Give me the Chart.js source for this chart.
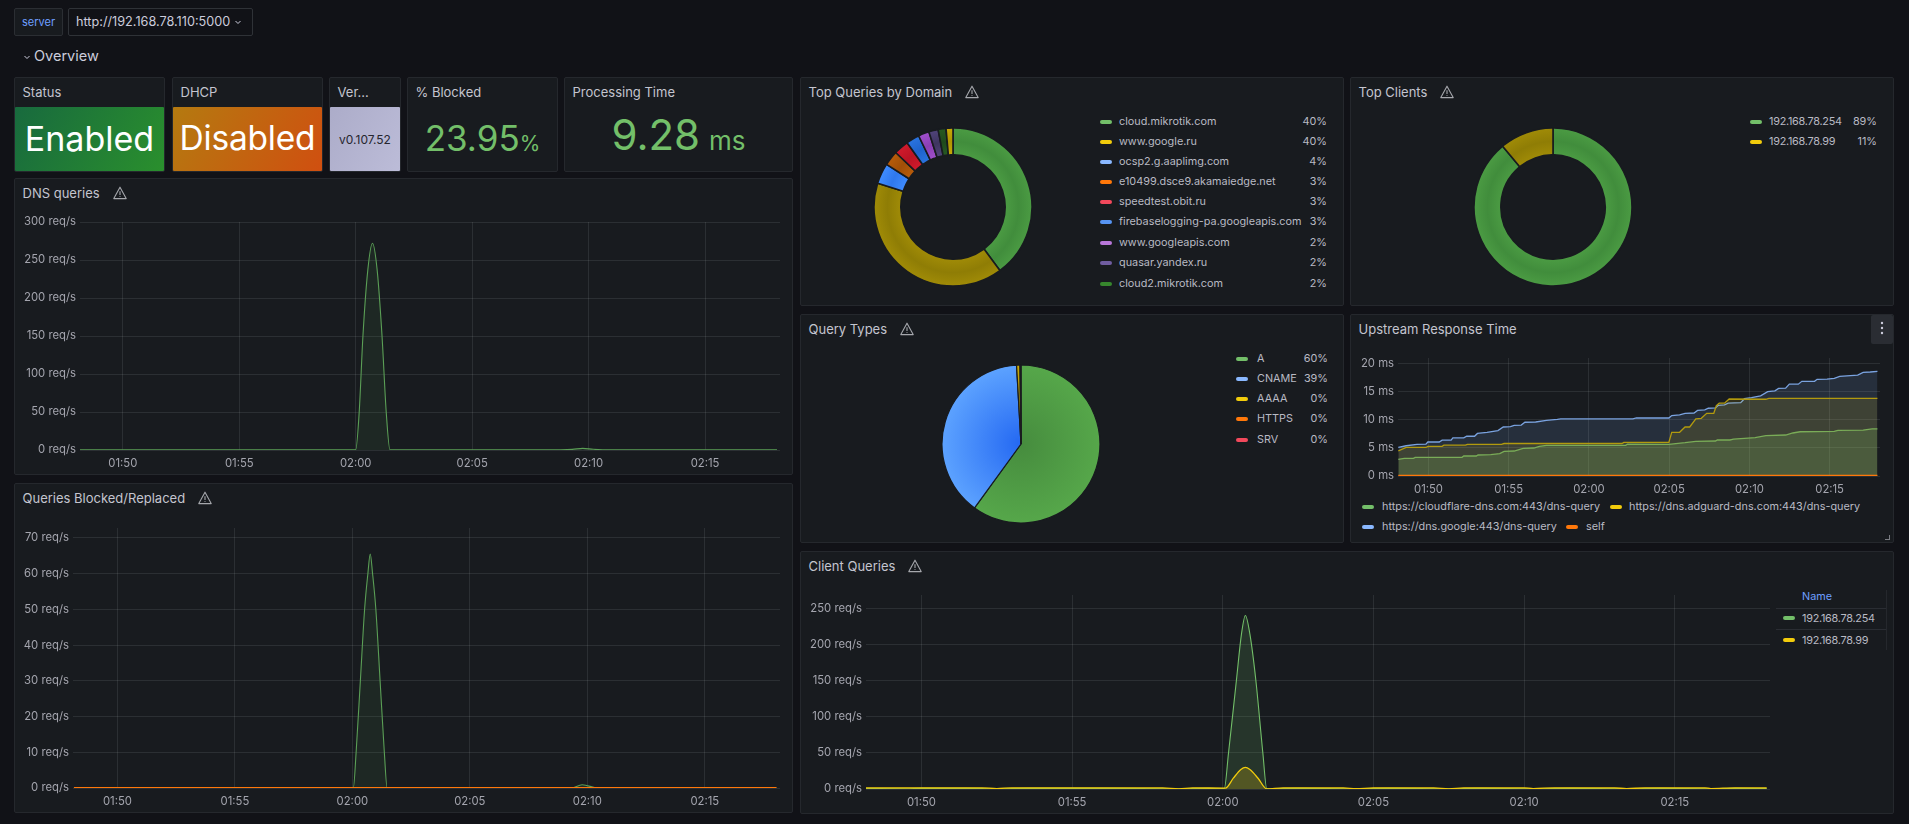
<!DOCTYPE html>
<html><head><meta charset="utf-8"><title>AdGuard Home dashboard</title>
<script src="https://cdn.jsdelivr.net/npm/chart.js@4"></script>
<style>
html,body{margin:0;padding:0;width:1909px;height:824px;background:#111217;overflow:hidden;font-family:Inter,sans-serif;color:#ccccdc}
.abs{position:absolute;white-space:nowrap}
.panel{position:absolute;box-sizing:border-box;background:#181b1f;border:1px solid #25282d;border-radius:2px}
.title{position:absolute;display:flex;align-items:center;font-size:13px;font-weight:400;color:#c4c5cf;line-height:16px;white-space:nowrap}
.title svg{margin-left:13px}
canvas{position:absolute;display:block}
.swatch{position:absolute;width:12px;height:4px;border-radius:2px}
.lg{position:absolute;font-size:10.85px;line-height:14px;color:#b9bac4;white-space:nowrap}
.ip{letter-spacing:-0.25px}
.tile{position:absolute;display:flex;align-items:center;justify-content:center;border-radius:1px;white-space:nowrap}
</style></head><body>
<script>
// ---------- shared axis data ----------
const xTickValues=[110,115,120,125,130,135];
const xTickLabels=['01:50','01:55','02:00','02:05','02:10','02:15'];
// ---------- DNS queries ----------
const dnsYTicks=[0,50,100,150,200,250,300];
const dnsTimes=[108.16,112,116,119.6,120,120.15,120.31,120.52,120.72,120.92,121.13,121.31,121.47,121.8,125,128.8,129.3,129.75,130.2,130.6,134,138.09];
const dnsValues=[0.4,0.4,0.4,0.4,0.4,50,150,237,272,237,150,50,0.4,0.4,0.4,0.4,0.8,2.2,0.9,0.4,0.4,0.4];
// ---------- Queries Blocked/Replaced ----------
const blockedYTicks=[0,10,20,30,40,50,60,70];
const blockedTimes=[108.15,116,120.04,120.16,120.34,120.52,120.66,120.76,120.86,121,121.18,121.36,121.48,126,129.3,129.78,130.45,134,138.05];
const blockedValues=[0,0,0,10,30,50,60,65.5,60,50,30,10,0,0,0,0.9,0,0,0];
const replacedTimes=[108.15,138.05];
const replacedValues=[0,0];
// ---------- Client Queries ----------
const clientYTicks=[0,50,100,150,200,250];
const client254Times=[108.16,109.5,110,111.5,112.5,113.5,116,118.5,119.5,120.05,120.19,120.45,120.62,120.75,120.9,121.1,121.33,121.46,122.5,124.4,125.5,127.5,128.5,130.3,131.5,133.4,134.5,136.2,137,138.05];
const client254Values=[0.6,0.3,0.8,0.8,0.2,0.8,0.8,0.3,0.8,0.5,50,150,215,241,215,150,50,0.4,0.8,0.2,0.8,0.2,0.8,0.2,0.8,0.2,0.8,0.2,0.8,0.6];
const client99Times=[108.16,112,112.5,113,118,118.54,119,120.09,120.35,120.6,120.75,120.9,121.17,121.46,122,124,124.43,125,127,127.5,128,130,130.3,131,133,133.4,134,136,136.2,137,138.05];
const client99Values=[1.6,1.6,0.6,1.6,1.6,0.3,1.6,1.2,15,27,30,27,15,0.2,1.6,1.6,0.4,1.6,1.6,0.3,1.6,1.6,0.6,1.6,1.6,0.5,1.6,1.6,0.6,1.6,1.6];
const clientNames=['192.168.78.254','192.168.78.99'];
// ---------- Upstream Response Time ----------
const upstreamYTicks=[0,5,10,15,20];
const upstreamNames=['https://cloudflare-dns.com:443/dns-query','https://dns.adguard-dns.com:443/dns-query','https://dns.google:443/dns-query','self'];
const cfTimes=[108.12,108.5,109.06,109.17,112.09,112.2,112.98,113.09,113.88,114.44,114.71,115.34,115.9,116.57,116.91,117.35,122.29,122.4,124.98,125.99,126.66,127.89,128,128.79,129.01,129.69,130.36,131.03,132.26,132.71,133.16,135.29,135.52,137.09,137.65,137.98];
const cfValues=[2.98,3.15,3.15,3.33,3.33,3.57,3.57,3.75,3.8,4,4.4,4.46,4.94,5,5.3,5.48,5.48,5.7,5.65,5.95,6.2,6.25,6.43,6.43,6.6,6.73,6.85,7.2,7.32,7.68,7.9,7.98,8.15,8.2,8.4,8.4];
const agTimes=[108.12,108.61,109.84,109.96,110.85,110.96,112.31,112.42,114.55,114.71,122.06,122.17,124.98,125.16,125.65,125.99,126.28,126.66,127,127.34,127.78,127.94,128.12,128.45,128.74,131.03,131.21,137.98];
const agValues=[4.5,5.1,5.1,5.3,5.3,5.5,5.5,5.65,5.65,5.8,5.8,6,6,7.8,7.8,8.75,8.75,10.2,10.3,11.2,11.2,12.55,13,13,13.75,13.7,13.87,13.87];
const gTimes=[108.12,108.61,109.28,109.84,109.96,110.67,110.85,111.41,111.52,112.2,112.38,112.87,113.05,113.65,114.33,114.66,115.11,115.34,115.78,116.01,116.68,117.35,118.03,118.25,122.74,122.96,124.98,125.16,125.65,125.99,126.55,126.77,127.22,127.44,127.89,128.05,128.45,128.68,129.46,129.69,130.13,130.7,131.14,131.59,131.82,132.26,132.49,133.05,133.27,134.06,134.22,134.84,135.29,135.63,136.75,137.09,137.53,137.98];
const gValues=[5.1,5.4,5.65,5.7,6.07,6.07,6.4,6.4,6.8,6.8,7.1,7.1,7.6,7.8,8.1,8.75,8.8,9.05,9.1,9.6,9.64,9.94,10.1,10.2,10.2,10.36,10.36,10.8,10.9,11.2,11.25,11.7,11.8,12.1,12.15,12.6,12.7,13,13.1,13.8,14,14.3,15.05,15.2,15.65,15.7,16.4,16.4,16.9,16.9,17.26,17.3,17.45,17.8,18,18.5,18.57,18.7];
const selfTimes=[108.12,137.98];
const selfValues=[0.05,0.05];
// ---------- Pies ----------
const domainLabels=['cloud.mikrotik.com','www.google.ru','ocsp2.g.aaplimg.com','e10499.dsce9.akamaiedge.net','speedtest.obit.ru','firebaselogging-pa.googleapis.com','www.googleapis.com','quasar.yandex.ru','cloud2.mikrotik.com',''];
const domainValues=[39.6,39.7,4.2,3.0,3.0,2.7,2.2,1.9,1.6,1.4];
const domainPct=['40%','40%','4%','3%','3%','3%','2%','2%','2%'];
const clientShareValues=[89,11];
const clientPct=['89%','11%'];
const typeLabels=['A','CNAME','AAAA','HTTPS','SRV'];
const typeValues=[60,39.1,0.7,0.1,0.1];
const typePct=['60%','39%','0%','0%','0%'];
// ---------- Colours ----------
const C={green:'#73BF69',yellow:'#F2CC0C',lblue:'#8AB8FF',orange:'#FF780A',red:'#F2495C',blue:'#5794F2',purple:'#B877D9',violet:'#705DA0',dgreen:'#37872D'};
const domainLegend=[C.green,C.yellow,C.lblue,C.orange,C.red,C.blue,C.purple,C.violet,C.dgreen];
const domainMid=['#418d3c','#8f7d05','#2f78ee','#a14f08','#bb1424','#1f63cc','#8a3fb4','#3f3560','#1f4a1c','#b09500'];
const domainEdge=['#4b9b43','#a08b07','#3f8cff','#b85c0a','#d01a2c','#2a74e0','#a04fcc','#50447a','#275a22','#c8aa08'];
const typeMid=['#468c3e','#2468f2','#9c8405','#b85c0a','#d01a2c'];
const typeEdge=['#56a74a','#5ca2ff','#c8aa08','#d8700a','#e03040'];

Chart.defaults.font.family='Inter';
Chart.defaults.font.size=11.3;
Chart.defaults.animation=false;

const WARN='<svg width="14" height="14" viewBox="0 0 14 14"><path d="M7 1.2 L13.2 12.6 L0.8 12.6 Z" fill="none" stroke="#a6a8ad" stroke-width="1.1" stroke-linejoin="round"/><path d="M7 5.2V9M7 10.3v.8" stroke="#a6a8ad" stroke-width="1.1"/></svg>';
function el(tag,cls,css,html){const e=document.createElement(tag);if(cls)e.className=cls;Object.assign(e.style,css);if(html!=null)e.innerHTML=html;document.body.appendChild(e);return e;}
function px(o){const r={};for(const k in o)r[k]=(typeof o[k]==='number'&&k!=='fontWeight')?o[k]+'px':o[k];return r;}
function panel(x,y,w,h,title,warn){
  el('div','panel',px({left:x,top:y,width:w,height:h}));
  el('div','title',px({left:x+8.5,top:y+7}),title+(warn?WARN:''));
}
function zip(t,v){return t.map((x,i)=>({x,y:v[i]}));}
function alpha(hex,a){const n=parseInt(hex.slice(1),16);return `rgba(${n>>16},${(n>>8)&255},${n&255},${a})`;}
function series(label,t,v,color,o){return Object.assign({label,data:zip(t,v),borderColor:color,backgroundColor:alpha(color,.1),borderWidth:1.1,pointRadius:0,fill:'origin',cubicInterpolationMode:'monotone'},o||{});}
const GRID='rgba(240,250,255,0.09)';
function lineChart(id,box,plot,yTicks,yMax,unit,datasets){
  const c=el('canvas','',px({left:box.x,top:box.y}));c.id=id;c.width=box.w;c.height=box.h;
  return new Chart(c,{type:'line',data:{datasets},options:{responsive:false,animation:false,
    layout:{padding:{top:plot.top-box.y,right:box.x+box.w-plot.right,left:0,bottom:0}},
    plugins:{legend:{display:false},tooltip:{enabled:false}},
    scales:{
      x:{type:'linear',min:plot.xmin,max:plot.xmax,border:{display:false},grid:{color:GRID,drawTicks:false},
         afterBuildTicks:s=>{s.ticks=xTickValues.map(value=>({value}));},
         afterFit:s=>{s.height=box.y+box.h-plot.bottom;},
         ticks:{color:'#a4a5ae',padding:7,maxRotation:0,autoSkip:false,callback:v=>xTickLabels[xTickValues.indexOf(v)]}},
      y:{type:'linear',min:0,max:yMax,border:{display:false},grid:{color:GRID,drawTicks:false},
         afterBuildTicks:s=>{s.ticks=yTicks.map(value=>({value}));},
         afterFit:s=>{s.width=plot.left-box.x;},
         ticks:{color:'#a4a5ae',padding:4,autoSkip:false,callback:v=>v+' '+unit}}
    }}});
}
function ringFill(mids,edges,cut,R){
  return ctx=>{
    const ch=ctx.chart,a=ch.chartArea;if(!a)return mids[ctx.dataIndex];
    const cx=(a.left+a.right)/2,cy=(a.top+a.bottom)/2,r=R*cut;
    const g=ch.ctx.createRadialGradient(cx,cy,r,cx,cy,R);
    const i=ctx.dataIndex;
    if(cut>0){g.addColorStop(0,edges[i]);g.addColorStop(.5,mids[i]);g.addColorStop(1,edges[i]);}
    else{g.addColorStop(0,mids[i]);g.addColorStop(1,edges[i]);}
    return g;
  };
}
function pie(id,cx,cy,labels,values,mids,edges,cut){
  const R=79;
  const c=el('canvas','',px({left:cx-82,top:cy-82}));c.id=id;c.width=164;c.height=164;
  return new Chart(c,{type:'doughnut',data:{labels,datasets:[{data:values,backgroundColor:ringFill(mids,edges,cut,R),borderColor:'#181b1f',borderWidth:cut>0?1.6:1.2,borderRadius:cut>0?1:0}]},
    options:{responsive:false,animation:false,radius:R,cutout:(cut*100)+'%',plugins:{legend:{display:false},tooltip:{enabled:false}}}});
}
function legendRows(sx,tx,pctRight,ys,labels,pcts,colors,cls){
  labels.forEach((t,i)=>{
    if(i>=ys.length)return;
    el('div','swatch',px({left:sx,top:ys[i]-2,background:colors[i]}));
    el('div','lg '+(cls||''),px({left:tx,top:ys[i]-7.8}),t);
    el('div','lg',px({left:pctRight-40,width:40,top:ys[i]-7.8,textAlign:'right'}),pcts[i]);
  });
}

// ---------- top bar ----------
el('div','abs',px({left:14,top:8,width:49,height:28,boxSizing:'border-box',border:'1px solid #2b2e33',background:'#181b1f',color:'#6e9fff',fontSize:11,fontWeight:400,lineHeight:'26px',textAlign:'center',borderRadius:2}),'server');
el('div','abs',px({left:68,top:8,width:185,height:28,boxSizing:'border-box',border:'1px solid #2f3237',background:'#111217',color:'#ccccdc',fontSize:12.7,lineHeight:'26px',paddingLeft:7,borderRadius:2}),'http://192.168.78.110:5000');
el('div','abs',px({left:234,top:18,fontSize:0}),'<svg width="8" height="8" viewBox="0 0 8 8"><path d="M1.5 3 L4 5.5 L6.5 3" fill="none" stroke="#ccccdc" stroke-width="1"/></svg>');
el('div','abs',px({left:23,top:53,fontSize:0}),'<svg width="8" height="8" viewBox="0 0 8 8"><path d="M1.5 3 L4 5.5 L6.5 3" fill="none" stroke="#ccccdc" stroke-width="1"/></svg>');
el('div','abs',px({left:34,top:47,fontSize:14.5,fontWeight:400,lineHeight:'18px',color:'#ccccdc'}),'Overview');

// ---------- stat tiles ----------
panel(14,77,151,95,'Status');
el('div','tile',px({left:15,top:107,width:149,height:64,paddingBottom:2,boxSizing:'border-box',background:'linear-gradient(120deg,#186a3e,#2a8f2d)',color:'#fff',fontSize:34,fontWeight:400}),'Enabled');
panel(172,77,151,95,'DHCP');
el('div','tile',px({left:173,top:107,width:149,height:64,paddingBottom:2,boxSizing:'border-box',background:'linear-gradient(120deg,#b47a10,#d04f10)',color:'#fff',fontSize:33.5,fontWeight:400,letterSpacing:'-0.2px'}),'Disabled');
panel(329,77,72,95,'Ver...');
el('div','tile',px({left:330,top:107,width:70,height:64,background:'linear-gradient(120deg,#acacc9,#bcbcd8)',color:'#26262f',fontSize:12}),'v0.107.52');
panel(407,77,151,95,'% Blocked');
el('div','abs',px({left:407,top:117,width:151,textAlign:'center',color:'#73BF69',fontSize:35,lineHeight:'42px'}),'23.95<span style="font-size:21px">%</span>');
panel(564,77,229,95,'Processing Time');
el('div','abs',px({left:564,top:110,width:229,textAlign:'center',color:'#73BF69',fontSize:42,lineHeight:'50px'}),'9.28<span style="font-size:26px;margin-left:9px">ms</span>');

// ---------- time series ----------
panel(14,178,779,297,'DNS queries',true);
lineChart('dns',{x:14,y:178,w:779,h:297},{left:80,right:780,top:222,bottom:450,xmin:108.16,xmax:138.22},dnsYTicks,300,'req/s',[
  series('DNS queries',dnsTimes,dnsValues,'#5b9f56')]);
panel(14,483,779,330,'Queries Blocked/Replaced',true);
lineChart('blocked',{x:14,y:483,w:779,h:330},{left:73,right:780,top:528,bottom:788,xmin:108.11,xmax:138.2},blockedYTicks,72.8,'req/s',[
  series('Replaced',replacedTimes,replacedValues,C.orange,{borderWidth:2,fill:false,order:0}),
  series('Blocked',blockedTimes,blockedValues,'#5b9f56',{order:1})]);
panel(800,551,1094,263,'Client Queries',true);
lineChart('client',{x:800,y:551,w:976,h:263},{left:866,right:1770,top:595,bottom:789,xmin:108.16,xmax:138.16},clientYTicks,269.4,'req/s',[
  series(clientNames[1],client99Times,client99Values,C.yellow,{backgroundColor:alpha(C.yellow,.22),borderWidth:1.3,order:0}),
  series(clientNames[0],client254Times,client254Values,C.green,{backgroundColor:alpha(C.green,.16),order:1})]);
// client table legend
[[1776,608,110],[1776,629,110]].forEach(l=>el('div','abs',px({left:l[0],top:l[1],width:l[2],height:1,background:'#2a2d33'})));
el('div','abs',px({left:1886,top:590,width:1,height:60,background:'#25282d'}));
el('div','lg',px({left:1802,top:590,color:'#6e9fff',fontSize:10.8,fontWeight:400}),'Name');
el('div','swatch',px({left:1783,top:616,background:C.green}));
el('div','lg ip',px({left:1802,top:611}),clientNames[0]);
el('div','swatch',px({left:1783,top:638,background:C.yellow}));
el('div','lg ip',px({left:1802,top:633}),clientNames[1]);

panel(1350,314,544,229,'Upstream Response Time');
lineChart('upstream',{x:1350,y:314,w:544,h:185},{left:1398,right:1880,top:358,bottom:476,xmin:108.1,xmax:138.14},upstreamYTicks,21.07,'ms',[
  series(upstreamNames[3],selfTimes,selfValues,C.orange,{borderWidth:1.8,fill:false,order:0}),
  series(upstreamNames[1],agTimes,agValues,'#b29a0e',{backgroundColor:alpha(C.yellow,.12),borderWidth:1.3,cubicInterpolationMode:'default',tension:0,order:1}),
  series(upstreamNames[0],cfTimes,cfValues,'#6aa863',{backgroundColor:alpha(C.green,.2),borderWidth:1.3,cubicInterpolationMode:'default',tension:0,order:2}),
  series(upstreamNames[2],gTimes,gValues,'#7aa3e0',{backgroundColor:alpha(C.lblue,.13),borderWidth:1.3,cubicInterpolationMode:'default',tension:0,order:3})]);
el('div','abs',px({left:1871,top:315,width:22,height:29,background:'#2a2d33',borderRadius:2}));
el('div','abs',px({left:1871,top:320,width:22,fontSize:0,textAlign:'center'}),'<svg width="4" height="16" viewBox="0 0 4 16"><circle cx="2" cy="3" r="1.2" fill="#ccccdc"/><circle cx="2" cy="8" r="1.2" fill="#ccccdc"/><circle cx="2" cy="13" r="1.2" fill="#ccccdc"/></svg>');
el('div','abs',px({left:1885,top:535,width:5,height:5,boxSizing:'border-box',borderRight:'1px solid #7a7c82',borderBottom:'1px solid #7a7c82'}));
[[1362,1382,507,0,C.green],[1610,1629,507,1,C.yellow],[1362,1382,527,2,C.lblue],[1565.5,1586,527,3,C.orange]].forEach(r=>{
  el('div','swatch',px({left:r[0],top:r[2]-2,background:r[4]}));
  el('div','lg',px({left:r[1],top:r[2]-7.6}),upstreamNames[r[3]]);
});

// ---------- pies ----------
panel(800,77,544,229,'Top Queries by Domain',true);
pie('domains',953,206.5,domainLabels,domainValues,domainMid,domainEdge,.66);
legendRows(1100,1119,1327,[122,142,162,182,202,222,243,263,284],domainLabels.slice(0,9),domainPct,domainLegend);
panel(1350,77,544,229,'Top Clients',true);
pie('clients',1552.5,206.5,clientNames,clientShareValues,['#418d3c','#8f7d05'],['#4b9b43','#a08b07'],.66);
legendRows(1750,1769,1877,[122,142],clientNames,clientPct,[C.green,C.yellow],'ip');
panel(800,314,544,229,'Query Types',true);
pie('types',1021,443.5,typeLabels,typeValues,typeMid,typeEdge,0);
legendRows(1236,1257,1328,[359,379,399,419,440],typeLabels,typePct,[C.green,C.lblue,C.yellow,C.orange,C.red]);
</script>
</body></html>
